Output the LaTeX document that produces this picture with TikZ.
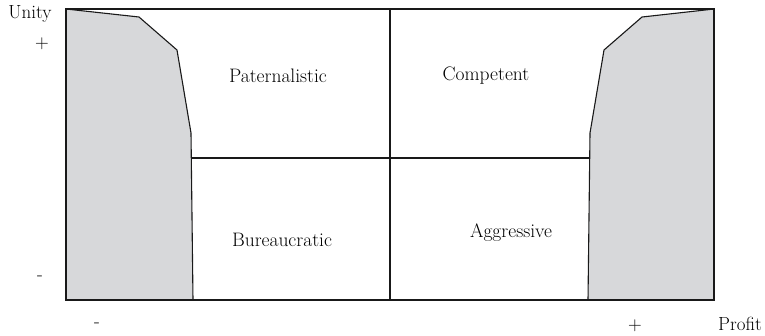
\documentclass[tikz,border=0pt]{standalone}
\usepackage{fontspec}
\begin{document}
\begin{tikzpicture}[x=1pt,y=-1pt,
  lab/.style={font=\fontsize{19.5}{23}\selectfont, inner sep=0pt},
  axlab/.style={font=\fontsize{19}{22}\selectfont, inner sep=0pt},
  frame/.style={draw=black!90, line width=1.1pt}]
\definecolor{zone}{HTML}{D7D8DA}
\useasboundingbox (0,0) rectangle (765,335);
% shaded zones
\fill[zone] (66,9) -- (139,17) -- (177,50) -- (191,133) -- (193,300) -- (66,300) -- cycle;
\draw[frame, line join=round] (66,9) -- (139,17) -- (177,50) -- (191,133) -- (193,300);
\fill[zone] (714,9) -- (642,17) -- (604,50) -- (590,133) -- (588,300) -- (714,300) -- cycle;
\draw[frame, line join=round] (714,9) -- (642,17) -- (604,50) -- (590,133) -- (588,300);
% frame and quadrant lines
\draw[frame] (66,9) rectangle (714,300);
\coordinate (mt) at (390,9);
\coordinate (mb) at (390,300);
\coordinate (hl) at (191,158);
\coordinate (hr) at (590,158);
\draw[frame] (mt) -- (mb);
\draw[frame] (hl) -- (hr);
% labels
\node[lab] (pat) at (278,76) {Paternalistic};
\node[lab] (com) at (486,76) {Competent};
\node[lab] (bur) at (282,240) {Bureaucratic};
\node[lab] (agg) at (511,233) {Aggressive};
% axes labels
\node[axlab] (unity) at (30,14) {Unity};
\node[axlab] (uplus) at (42,44) {+};
\node[axlab] (uminus) at (40,278) {-};
\node[axlab] (pminus) at (97,325) {-};
\node[axlab] (pplus) at (635,326) {+};
\node[axlab] (profit) at (740,324) {Profit};
\end{tikzpicture}
\end{document}
